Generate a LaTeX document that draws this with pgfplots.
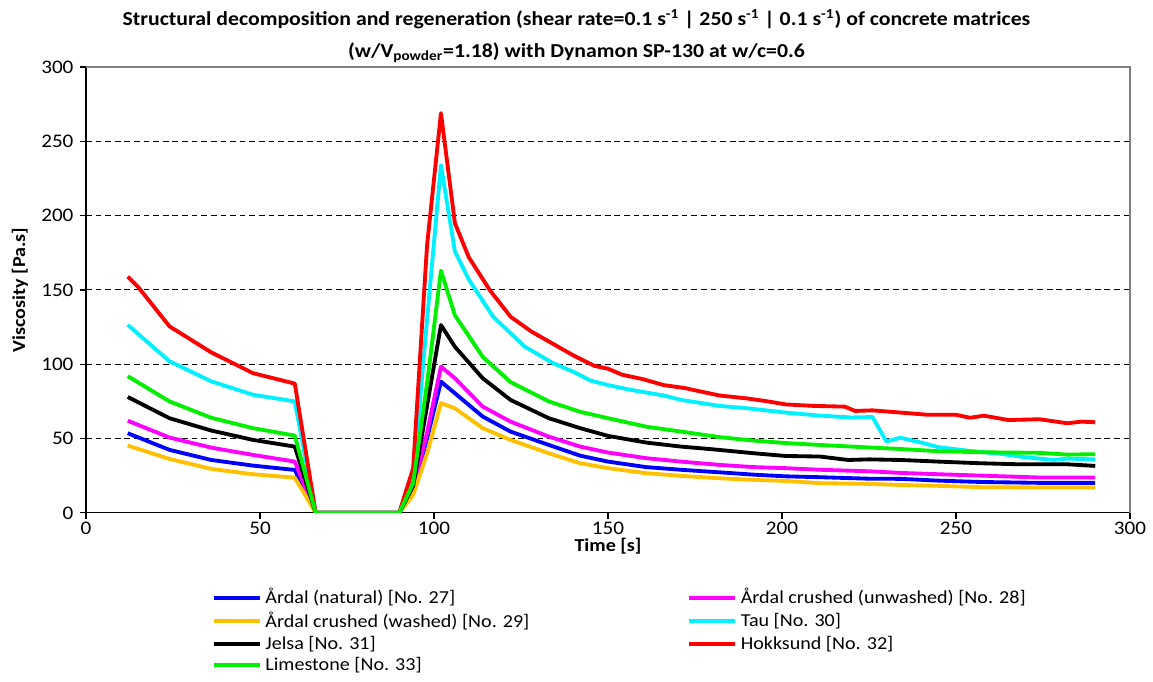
\documentclass[border=0pt]{standalone}
\usepackage{fontspec}
\setmainfont{Carlito}[FakeStretch=1.1]
\usepackage{pgfplots}
\pgfplotsset{compat=1.18}
\definecolor{cBlue}{RGB}{0,0,255}
\definecolor{cMag}{RGB}{255,0,255}
\definecolor{cYel}{RGB}{255,192,0}
\definecolor{cCyan}{RGB}{0,240,255}
\definecolor{cRed}{RGB}{255,0,0}
\definecolor{cGreen}{RGB}{0,240,0}
\begin{document}
\begin{tikzpicture}
\useasboundingbox (0,0) rectangle (600pt,354.9pt);
\node[font=\bfseries\fontsize{10.3}{16.5}\selectfont, align=center] at (300pt,336.2pt)
  {Structural decomposition and regeneration (shear rate=0.1 s\textsuperscript{-1} \textbar{} 250 s\textsuperscript{-1} \textbar{} 0.1 s\textsuperscript{-1}) of concrete matrices\\(w/V\textsubscript{powder}=1.18) with Dynamon SP-130 at w/c=0.6};
\begin{axis}[
    at={(44.75pt,88pt)}, anchor=south west,
    scale only axis, width=543.3pt, height=232pt,
    xmin=0, xmax=300, ymin=0, ymax=300,
    xtick={0,50,...,300}, ytick={0,50,...,300},
    axis x line*=bottom, axis y line*=left,
    axis line style={line width=0.6pt},
    tick align=outside, major tick length=3pt,
    tick style={black, line width=0.6pt},
    ymajorgrids=true,
    grid style={densely dashed, black, line width=0.5pt},
    tick label style={font=\fontsize{10}{11}\selectfont},
    xticklabel style={yshift=2pt},
    /pgf/number format/assume math mode=true,
    xlabel={Time [s]},
    ylabel={Viscosity [Pa.s]},
    xlabel style={yshift=5pt},
    label style={font=\fontsize{9.5}{11}\selectfont\bfseries},
    legend columns=2,
    legend cell align=left,
    legend style={at={(0.12,-0.16)}, anchor=north west, draw=none, fill=none,
        font=\fontsize{9.5}{11}\selectfont, inner sep=0pt, row sep=-1.2pt,
        /tikz/column 2/.style={column sep=80pt}},
    legend image code/.code={\draw[#1, line width=2pt] (0pt,0pt) -- (24pt,0pt);},
    every axis plot/.append style={line width=2pt, line join=round},
    extra description/.code={\draw[gray, line width=0.6pt] (rel axis cs:0,1) -- (rel axis cs:1,1) -- (rel axis cs:1,0);},
]
\addplot[cBlue] coordinates {
 (12,53.6)(24,42.4)(36,35.6)(48,31.8)(60,28.9)(66,0)(90,0)(94,15)(98,50)(102,88.3)(106,80.5)
 (114,64.8)(122,54.7)(133,45.7)(142,38.5)(150,34.5)(161,30.8)(171,29)(182,27.3)(192,25.7)
 (201,24.6)(211,24)(225,23)(234,22.9)(245,21.7)(257,20.8)(274,20.2)(290,20.2)
};
\addlegendentry{Årdal (natural) [No. 27]}
\addplot[cMag] coordinates {
 (12,62)(24,50.7)(36,43.9)(48,39)(60,34.5)(66,0)(90,0)(94,16)(98,54)(102,98.4)(106,90.6)
 (114,71.5)(122,61.4)(133,51.3)(142,44.6)(150,40.6)(161,36.8)(171,34.5)(182,32.3)(192,30.8)
 (201,30.1)(211,29)(225,28)(234,26.9)(245,26)(257,25.1)(274,23.8)(290,23.8)
};
\addlegendentry{Årdal crushed (unwashed) [No. 28]}
\addplot[cYel] coordinates {
 (12,45.3)(24,36.3)(36,29.6)(48,26)(60,23.7)(66,0)(90,0)(94,12)(98,40)(102,73.8)(106,70.4)
 (114,57)(122,49.1)(133,40.1)(142,33.4)(150,30.1)(161,26.7)(171,24.9)(182,23.3)(192,22.2)
 (201,21.5)(211,20)(225,19.5)(234,18.8)(245,18.2)(257,17.3)(274,17.1)(290,17.1)
};
\addlegendentry{Årdal crushed (washed) [No. 29]}
\addplot[cCyan] coordinates {
 (12,126.5)(24,102)(36,88.5)(48,79.5)(60,75)(66,0)(90,0)(94,22)(98,130)(102,234)(106,176)
 (110,157)(117,132)(126,112)(134,101)(140,95)(145,89)(150,86)(156,83)(166,79)(171,76)
 (182,72)(190,70.4)(201,67.5)(211,65.4)(220,64.2)(226,64.5)(230,48)(234,50.6)(240,47.3)
 (245,44.2)(254,41.7)(263,39.7)(270,37.4)(278,35.6)(282,36.5)(290,36)
};
\addlegendentry{Tau [No. 30]}
\addplot[black] coordinates {
 (12,78)(24,63.7)(36,55.4)(48,49.1)(60,44.6)(66,0)(90,0)(94,18)(98,72)(102,126.4)(106,111.8)
 (114,90.6)(122,76)(133,63.7)(142,57)(150,51.8)(161,47.3)(171,44.6)(180,42.8)(192,40.1)
 (201,38.3)(211,37.9)(219,35.6)(225,36)(234,35.6)(245,34.5)(257,33.4)(268,32.7)(282,32.7)(290,31.6)
};
\addlegendentry{Jelsa [No. 31]}
\addplot[cRed] coordinates {
 (12,159)(15,152)(24,125.5)(36,108)(48,94)(60,87)(66,0)(90,0)(94,30)(98,180)(102,269)
 (106,195)(110,172)(116,150)(122,132)(128,122)(134,114)(140,106)(146,99)(150,97)(154,93)
 (160,90)(166,86)(172,84)(176,82)(182,79)(190,77)(196,75)(201,73)(209,72)(218,71.5)
 (221,68.6)(226,69)(234,67.5)(242,66)(250,66)(254,64)(258,65.4)(265,62.5)(274,63)
 (282,60.3)(286,61.4)(290,61)
};
\addlegendentry{Hokksund [No. 32]}
\addplot[cGreen] coordinates {
 (12,92)(24,75)(36,64)(48,57)(60,52)(66,0)(90,0)(94,20)(98,87)(102,163)(106,133)
 (114,105)(122,88)(133,75)(142,68)(150,63.7)(161,58)(171,54.7)(182,51)(192,48.6)
 (201,47)(211,45.7)(225,44)(234,43)(245,41.5)(257,40.8)(274,40.4)(282,39.2)(290,39.5)
};
\addlegendentry{Limestone [No. 33]}
\end{axis}
\end{tikzpicture}
\end{document}
